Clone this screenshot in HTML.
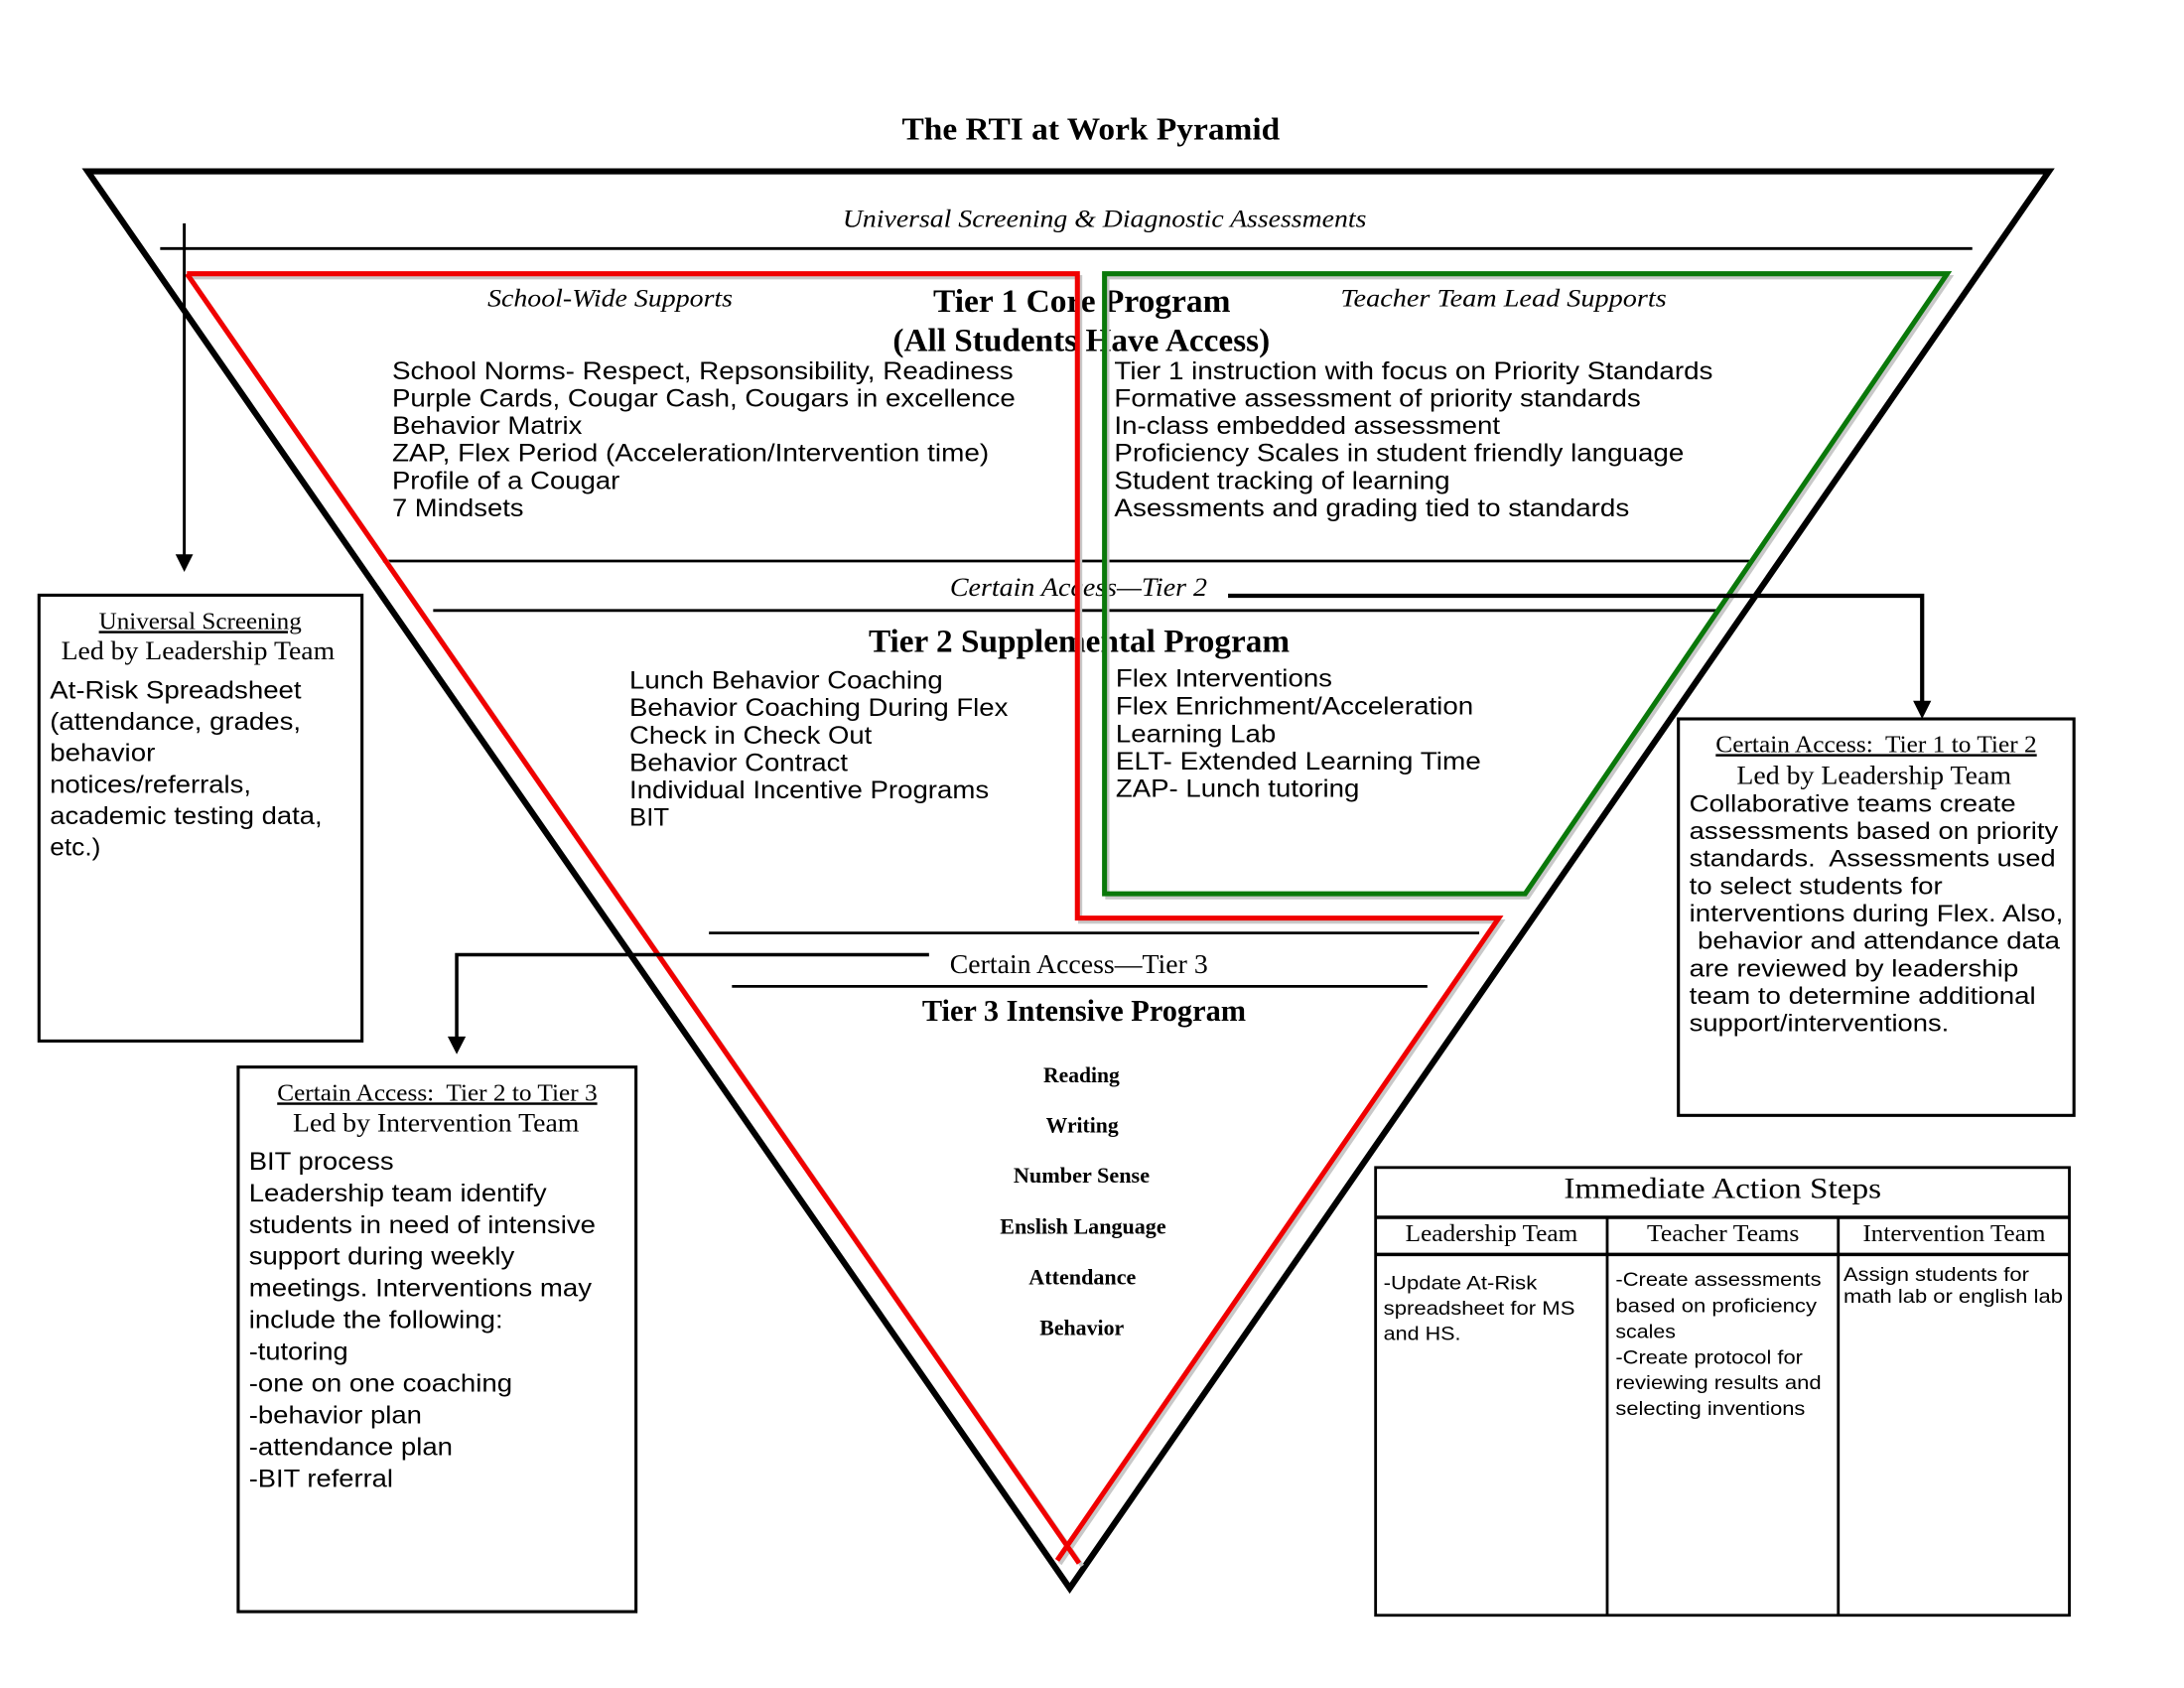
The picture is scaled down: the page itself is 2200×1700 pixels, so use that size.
<!DOCTYPE html>
<html>
<head>
<meta charset="utf-8">
<style>
html,body{margin:0;padding:0;background:#fff;}
svg{display:block;}
.s{font-family:"Liberation Serif","Times New Roman",serif;}
.a{font-family:"Liberation Sans",Arial,sans-serif;}
</style>
</head>
<body>
<svg width="2200" height="1700" viewBox="0 0 1568 1211.6" preserveAspectRatio="none" xmlns="http://www.w3.org/2000/svg">
<rect x="0" y="0" width="1568" height="1212" fill="#fff"/>

<!-- Horizontal divider lines -->
<g stroke="#000" fill="none">
<line x1="115" y1="178.4" x2="1416" y2="178.4" stroke-width="2"/>
<line x1="275" y1="402.7" x2="1256" y2="402.7" stroke-width="2"/>
<line x1="311" y1="438.2" x2="1238" y2="438.2" stroke-width="2"/>
<line x1="509" y1="669.7" x2="1062" y2="669.7" stroke-width="2"/>
<line x1="525.5" y1="708" x2="1024.8" y2="708" stroke-width="2"/>
</g>

<!-- Texts inside pyramid -->
<text class="s" x="647.5" y="100.3" font-size="22.5" font-weight="bold" textLength="271.4" lengthAdjust="spacingAndGlyphs">The RTI at Work Pyramid</text>
<text class="s" x="605" y="162.7" font-size="18" font-style="italic" textLength="376" lengthAdjust="spacingAndGlyphs">Universal Screening &amp; Diagnostic Assessments</text>
<text class="s" x="350" y="220" font-size="18" font-style="italic" textLength="176" lengthAdjust="spacingAndGlyphs">School-Wide Supports</text>
<text class="s" x="962.5" y="220" font-size="18" font-style="italic" textLength="234" lengthAdjust="spacingAndGlyphs">Teacher Team Lead Supports</text>
<text class="s" x="670" y="223.8" font-size="23.5" font-weight="bold" textLength="213.4" lengthAdjust="spacingAndGlyphs">Tier 1 Core Program</text>
<text class="s" x="641" y="251.8" font-size="23.5" font-weight="bold" textLength="270.7" lengthAdjust="spacingAndGlyphs">(All Students Have Access)</text>

<g class="a" font-size="18">
<text x="281.5" y="272.1" textLength="446" lengthAdjust="spacingAndGlyphs">School Norms- Respect, Repsonsibility, Readiness</text>
<text x="281.5" y="291.8" textLength="447.5" lengthAdjust="spacingAndGlyphs">Purple Cards, Cougar Cash, Cougars in excellence</text>
<text x="281.5" y="311.5" textLength="136.5" lengthAdjust="spacingAndGlyphs">Behavior Matrix</text>
<text x="281.5" y="331.2" textLength="428.5" lengthAdjust="spacingAndGlyphs">ZAP, Flex Period (Acceleration/Intervention time)</text>
<text x="281.5" y="350.9" textLength="163.5" lengthAdjust="spacingAndGlyphs">Profile of a Cougar</text>
<text x="281.5" y="370.6" textLength="94.5" lengthAdjust="spacingAndGlyphs">7 Mindsets</text>

<text x="800" y="272.1" textLength="429.8" lengthAdjust="spacingAndGlyphs">Tier 1 instruction with focus on Priority Standards</text>
<text x="800" y="291.8" textLength="378" lengthAdjust="spacingAndGlyphs">Formative assessment of priority standards</text>
<text x="800" y="311.5" textLength="277" lengthAdjust="spacingAndGlyphs">In-class embedded assessment</text>
<text x="800" y="331.2" textLength="409" lengthAdjust="spacingAndGlyphs">Proficiency Scales in student friendly language</text>
<text x="800" y="350.9" textLength="241" lengthAdjust="spacingAndGlyphs">Student tracking of learning</text>
<text x="800" y="370.6" textLength="369.8" lengthAdjust="spacingAndGlyphs">Asessments and grading tied to standards</text>
</g>

<text class="s" x="682" y="427.6" font-size="19" font-style="italic" textLength="184.7" lengthAdjust="spacingAndGlyphs">Certain Access—Tier 2</text>
<text class="s" x="623.6" y="468" font-size="23.5" font-weight="bold" textLength="302.3" lengthAdjust="spacingAndGlyphs">Tier 2 Supplemental Program</text>

<g class="a" font-size="18">
<text x="451.9" y="494.2" textLength="225" lengthAdjust="spacingAndGlyphs">Lunch Behavior Coaching</text>
<text x="451.9" y="513.9" textLength="271.8" lengthAdjust="spacingAndGlyphs">Behavior Coaching During Flex</text>
<text x="451.9" y="533.7" textLength="174.1" lengthAdjust="spacingAndGlyphs">Check in Check Out</text>
<text x="451.9" y="553.4" textLength="156.8" lengthAdjust="spacingAndGlyphs">Behavior Contract</text>
<text x="451.9" y="573.1" textLength="258.1" lengthAdjust="spacingAndGlyphs">Individual Incentive Programs</text>
<text x="451.9" y="592.8" textLength="28.6" lengthAdjust="spacingAndGlyphs">BIT</text>

<text x="801" y="493" textLength="155.5" lengthAdjust="spacingAndGlyphs">Flex Interventions</text>
<text x="801" y="512.8" textLength="256.8" lengthAdjust="spacingAndGlyphs">Flex Enrichment/Acceleration</text>
<text x="801" y="532.6" textLength="115" lengthAdjust="spacingAndGlyphs">Learning Lab</text>
<text x="801" y="552.4" textLength="262.3" lengthAdjust="spacingAndGlyphs">ELT- Extended Learning Time</text>
<text x="801" y="572.1" textLength="175" lengthAdjust="spacingAndGlyphs">ZAP- Lunch tutoring</text>
</g>

<text class="s" x="681.9" y="698.3" font-size="19.5" textLength="185.3" lengthAdjust="spacingAndGlyphs">Certain Access—Tier 3</text>
<text class="s" x="662" y="732.6" font-size="21.5" font-weight="bold" textLength="232.5" lengthAdjust="spacingAndGlyphs">Tier 3 Intensive Program</text>

<g class="s" font-size="15.5" font-weight="bold">
<text x="749.1" y="776.8" textLength="54.7" lengthAdjust="spacingAndGlyphs">Reading</text>
<text x="751" y="812.8" textLength="52" lengthAdjust="spacingAndGlyphs">Writing</text>
<text x="727.6" y="848.8" textLength="97.8" lengthAdjust="spacingAndGlyphs">Number Sense</text>
<text x="717.9" y="885.4" textLength="119.3" lengthAdjust="spacingAndGlyphs">Enslish Language</text>
<text x="738.6" y="921.8" textLength="77" lengthAdjust="spacingAndGlyphs">Attendance</text>
<text x="746.4" y="958.4" textLength="60.6" lengthAdjust="spacingAndGlyphs">Behavior</text>
</g>

<!-- Black pyramid -->
<path d="M63,123 L1471,123 L768,1140 Z" fill="none" stroke="#000" stroke-width="4.4" stroke-linejoin="miter" stroke-miterlimit="20"/>

<!-- Shadows -->
<g fill="none" stroke="#c8c8c8" stroke-width="3">
<path d="M136,199 L775.5,199 L775.5,661.5 L1078,661.5 L761,1122.5"/>
<path d="M136.5,199 L777,1124"/>
<path d="M795,199 L1400,199 L1097,644 L795,644 Z"/>
</g>

<!-- Red outline -->
<g fill="none" stroke="#f00000" stroke-width="3.6" stroke-linejoin="miter">
<path d="M134.2,196.5 L773.5,196.5 L773.5,659 L1076,659 L759,1120"/>
<path d="M134.2,196.5 L774.7,1122"/>
</g>

<!-- Green outline -->
<path d="M793,196.5 L1398,196.5 L1095,641.5 L793,641.5 Z" fill="none" stroke="#0a780a" stroke-width="3.6" stroke-linejoin="miter"/>

<!-- Connectors -->
<g stroke="#000" fill="none">
<line x1="132.3" y1="160.4" x2="132.3" y2="399" stroke-width="2.1"/>
<polyline points="881.7,427.6 1380,427.6 1380,504" stroke-width="3"/>
<polyline points="667,685.3 327.9,685.3 327.9,745" stroke-width="2.5"/>
</g>
<g fill="#000">
<polygon points="126,397.9 138.6,397.9 132.3,410.5"/>
<polygon points="1373.5,503 1386.5,503 1380,516"/>
<polygon points="321.4,744 334.4,744 327.9,756.7"/>
</g>

<!-- Left box -->
<rect x="28" y="427.2" width="231.9" height="320" fill="none" stroke="#000" stroke-width="2.2"/>
<text class="s" x="71" y="451.4" font-size="17.5" text-decoration="underline" textLength="145.5" lengthAdjust="spacingAndGlyphs">Universal Screening</text>
<text class="s" x="43.9" y="473.3" font-size="19" textLength="196.4" lengthAdjust="spacingAndGlyphs">Led by Leadership Team</text>
<g class="a" font-size="18">
<text x="35.8" y="501.3" textLength="180.6" lengthAdjust="spacingAndGlyphs">At-Risk Spreadsheet</text>
<text x="35.8" y="523.9" textLength="180.2" lengthAdjust="spacingAndGlyphs">(attendance, grades,</text>
<text x="35.8" y="546.4" textLength="75.6" lengthAdjust="spacingAndGlyphs">behavior</text>
<text x="35.8" y="569" textLength="144.5" lengthAdjust="spacingAndGlyphs">notices/referrals,</text>
<text x="35.8" y="591.6" textLength="195.6" lengthAdjust="spacingAndGlyphs">academic testing data,</text>
<text x="35.8" y="614.1" textLength="36.5" lengthAdjust="spacingAndGlyphs">etc.)</text>
</g>

<!-- Tier 2 to Tier 3 box -->
<rect x="171" y="765.9" width="285.6" height="390.9" fill="none" stroke="#000" stroke-width="2.2"/>
<text class="s" x="199" y="789.9" font-size="17.5" text-decoration="underline" textLength="229.8" lengthAdjust="spacingAndGlyphs">Certain Access:&#160; Tier 2 to Tier 3</text>
<text class="s" x="210.3" y="812.3" font-size="19" textLength="205.5" lengthAdjust="spacingAndGlyphs">Led by Intervention Team</text>
<g class="a" font-size="18">
<text x="178.7" y="839.5" textLength="104" lengthAdjust="spacingAndGlyphs">BIT process</text>
<text x="178.7" y="862.3" textLength="213.8" lengthAdjust="spacingAndGlyphs">Leadership team identify</text>
<text x="178.7" y="885.1" textLength="248.9" lengthAdjust="spacingAndGlyphs">students in need of intensive</text>
<text x="178.7" y="907.8" textLength="190.7" lengthAdjust="spacingAndGlyphs">support during weekly</text>
<text x="178.7" y="930.6" textLength="246.1" lengthAdjust="spacingAndGlyphs">meetings. Interventions may</text>
<text x="178.7" y="953.4" textLength="182.4" lengthAdjust="spacingAndGlyphs">include the following:</text>
<text x="178.7" y="976.1" textLength="71.2" lengthAdjust="spacingAndGlyphs">-tutoring</text>
<text x="178.7" y="998.9" textLength="189.1" lengthAdjust="spacingAndGlyphs">-one on one coaching</text>
<text x="178.7" y="1021.7" textLength="124.2" lengthAdjust="spacingAndGlyphs">-behavior plan</text>
<text x="178.7" y="1044.4" textLength="146.3" lengthAdjust="spacingAndGlyphs">-attendance plan</text>
<text x="178.7" y="1067.2" textLength="103.5" lengthAdjust="spacingAndGlyphs">-BIT referral</text>
</g>

<!-- Tier 1 to Tier 2 box -->
<rect x="1205" y="516" width="284" height="284.6" fill="none" stroke="#000" stroke-width="2.2"/>
<text class="s" x="1231.8" y="539.8" font-size="17.5" text-decoration="underline" textLength="230.5" lengthAdjust="spacingAndGlyphs">Certain Access:&#160; Tier 1 to Tier 2</text>
<text class="s" x="1246.8" y="562.6" font-size="19" textLength="197.2" lengthAdjust="spacingAndGlyphs">Led by Leadership Team</text>
<g class="a" font-size="17">
<text x="1212.8" y="582.5" textLength="234.5" lengthAdjust="spacingAndGlyphs">Collaborative teams create</text>
<text x="1212.8" y="602.2" textLength="264.9" lengthAdjust="spacingAndGlyphs">assessments based on priority</text>
<text x="1212.8" y="621.9" textLength="263" lengthAdjust="spacingAndGlyphs">standards.&#160; Assessments used</text>
<text x="1212.8" y="641.7" textLength="181.8" lengthAdjust="spacingAndGlyphs">to select students for</text>
<text x="1212.8" y="661.4" textLength="268.5" lengthAdjust="spacingAndGlyphs">interventions during Flex. Also,</text>
<text x="1218.8" y="681.1" textLength="260.1" lengthAdjust="spacingAndGlyphs">behavior and attendance data</text>
<text x="1212.8" y="700.8" textLength="236.4" lengthAdjust="spacingAndGlyphs">are reviewed by leadership</text>
<text x="1212.8" y="720.5" textLength="248.8" lengthAdjust="spacingAndGlyphs">team to determine additional</text>
<text x="1212.8" y="740.3" textLength="186.5" lengthAdjust="spacingAndGlyphs">support/interventions.</text>
</g>

<!-- Immediate Action Steps table -->
<g stroke="#000" fill="none">
<rect x="987.6" y="838" width="498.1" height="321.4" stroke-width="2"/>
<line x1="987.6" y1="873.8" x2="1485.7" y2="873.8" stroke-width="2.5"/>
<line x1="987.6" y1="900.4" x2="1485.7" y2="900.4" stroke-width="2.5"/>
<line x1="1153.9" y1="873.8" x2="1153.9" y2="1159.4" stroke-width="2"/>
<line x1="1319.8" y1="873.8" x2="1319.8" y2="1159.4" stroke-width="2"/>
</g>
<text class="s" x="1122.8" y="860" font-size="21" textLength="227.9" lengthAdjust="spacingAndGlyphs">Immediate Action Steps</text>
<g class="s" font-size="17">
<text x="1009" y="890.9" textLength="123.7" lengthAdjust="spacingAndGlyphs">Leadership Team</text>
<text x="1182.4" y="890.9" textLength="109.3" lengthAdjust="spacingAndGlyphs">Teacher Teams</text>
<text x="1337.4" y="890.9" textLength="131.1" lengthAdjust="spacingAndGlyphs">Intervention Team</text>
</g>
<g class="a" font-size="13.5">
<text x="993.3" y="925.4" textLength="110.2" lengthAdjust="spacingAndGlyphs">-Update At-Risk</text>
<text x="993.3" y="943.7" textLength="137.4" lengthAdjust="spacingAndGlyphs">spreadsheet for MS</text>
<text x="993.3" y="961.7" textLength="55.5" lengthAdjust="spacingAndGlyphs">and HS.</text>

<text x="1159.9" y="923" textLength="147.7" lengthAdjust="spacingAndGlyphs">-Create assessments</text>
<text x="1159.9" y="942" textLength="144.4" lengthAdjust="spacingAndGlyphs">based on proficiency</text>
<text x="1159.9" y="960.3" textLength="43.1" lengthAdjust="spacingAndGlyphs">scales</text>
<text x="1159.9" y="978.8" textLength="134.4" lengthAdjust="spacingAndGlyphs">-Create protocol for</text>
<text x="1159.9" y="997.1" textLength="147.7" lengthAdjust="spacingAndGlyphs">reviewing results and</text>
<text x="1159.9" y="1015.6" textLength="136.1" lengthAdjust="spacingAndGlyphs">selecting inventions</text>

<text x="1323.5" y="919.4" textLength="133.3" lengthAdjust="spacingAndGlyphs">Assign students for</text>
<text x="1323.5" y="934.9" textLength="157.5" lengthAdjust="spacingAndGlyphs">math lab or english lab</text>
</g>
</svg>
</body>
</html>
